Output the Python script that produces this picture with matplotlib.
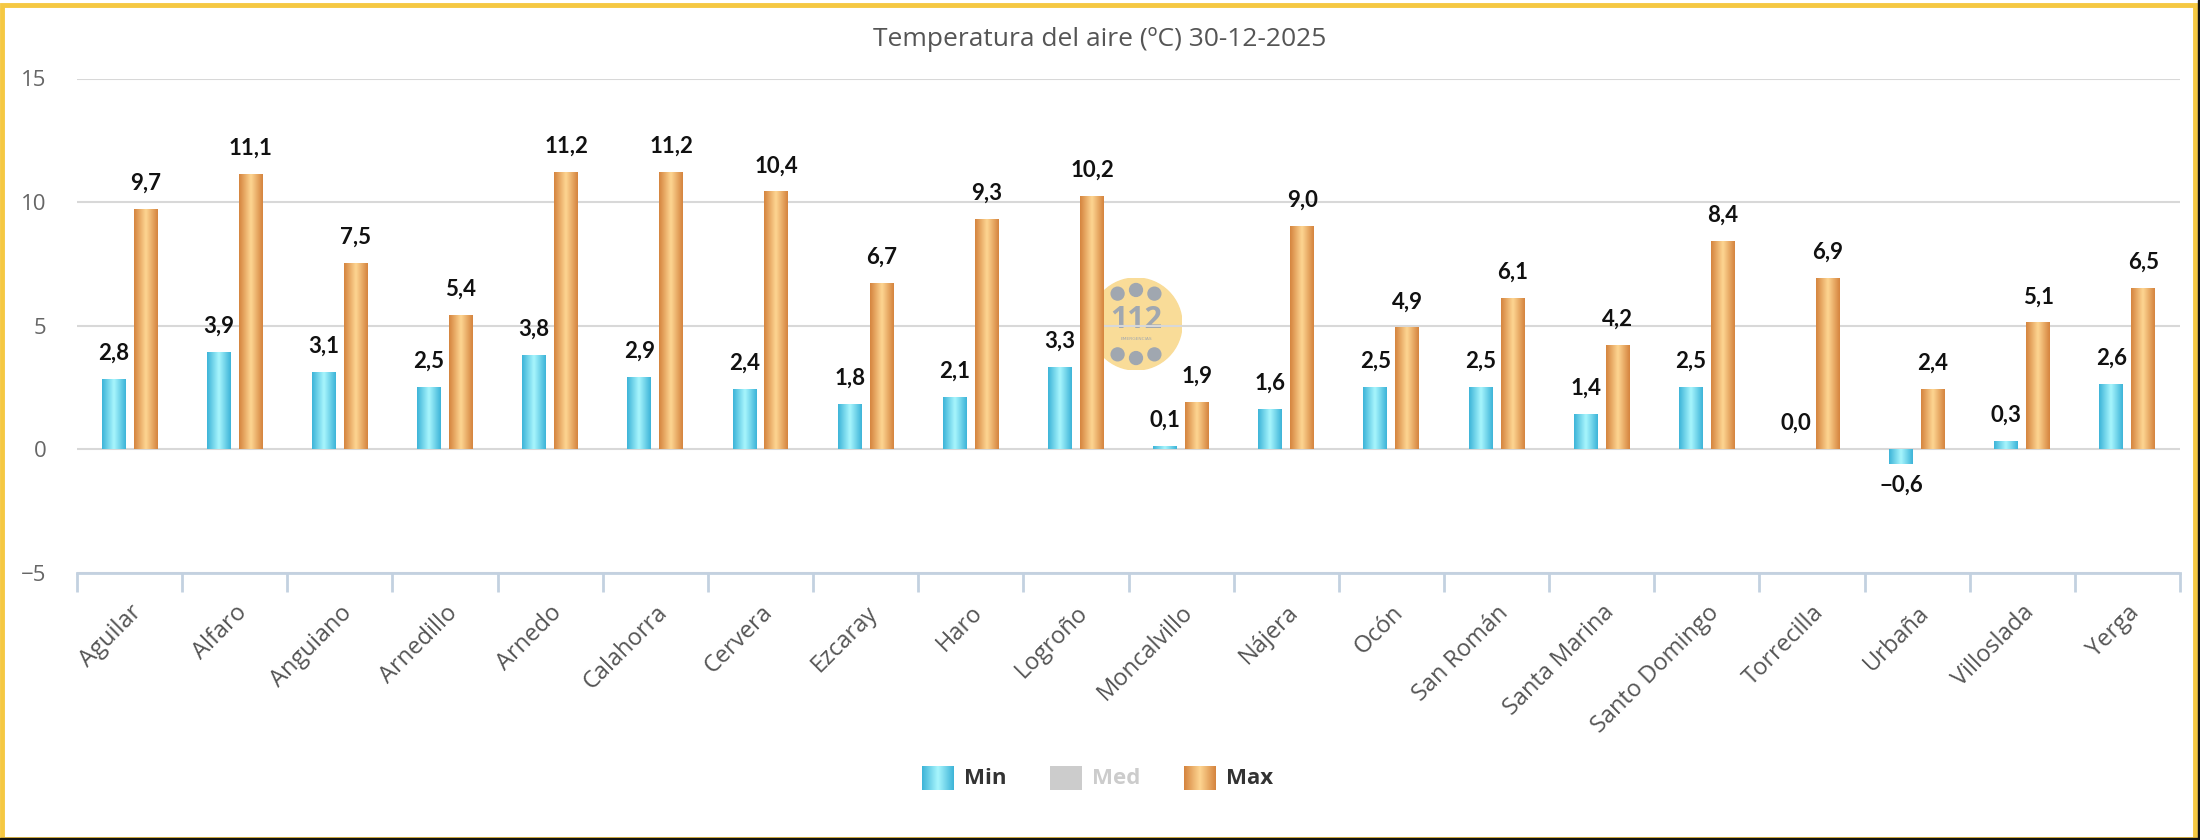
import matplotlib.pyplot as plt
import numpy as np
from matplotlib.colors import LinearSegmentedColormap
from matplotlib.patches import Rectangle, Circle

# Datos
estaciones = ["Aguilar", "Alfaro", "Anguiano", "Arnedillo", "Arnedo", "Calahorra",
              "Cervera", "Ezcaray", "Haro", "Logroño", "Moncalvillo", "Nájera",
              "Ocón", "San Román", "Santa Marina", "Santo Domingo", "Torrecilla",
              "Urbaña", "Villoslada", "Yerga"]
t_min = [2.8, 3.9, 3.1, 2.5, 3.8, 2.9, 2.4, 1.8, 2.1, 3.3,
         0.1, 1.6, 2.5, 2.5, 1.4, 2.5, 0.0, -0.6, 0.3, 2.6]
t_max = [9.7, 11.1, 7.5, 5.4, 11.2, 11.2, 10.4, 6.7, 9.3, 10.2,
         1.9, 9.0, 4.9, 6.1, 4.2, 8.4, 6.9, 2.4, 5.1, 6.5]
y_ticks = [-5, 0, 5, 10, 15]

FONT = ["Open Sans", "DejaVu Sans"]
FONT_LBL = ["Liberation Sans Narrow", "Lato", "DejaVu Sans"]

cmap_min = LinearSegmentedColormap.from_list("cmin", ["#3db4d8", "#a9f6fd", "#3db4d8"])
cmap_max = LinearSegmentedColormap.from_list("cmax", ["#d5843e", "#fed692", "#d5843e"])
grad = np.linspace(0, 1, 64).reshape(1, -1)

W, H = 2200, 840
fig = plt.figure(figsize=(22, 8.4), dpi=100)
fig.patch.set_facecolor("white")

# Logo 112 (marca de agua, detras del grafico)
gax = fig.add_axes([(1136 - 46) / W, 1 - (324 + 46) / H, 92 / W, 92 / H])
gax.set_aspect("equal")
gax.set_xlim(-1, 1)
gax.set_ylim(-1, 1)
gax.set_axis_off()
gax.add_patch(Circle((0, 0), 1.0, color="#f9dc98"))
for dx, dy in [(-0.4, 0.66), (0, 0.74), (0.4, 0.66), (-0.4, -0.66), (0, -0.74), (0.4, -0.66)]:
    gax.add_patch(Circle((dx, dy), 0.14, color="#a0a7b0"))
gax.text(0, 0.08, "112", ha="center", va="center", fontsize=22, fontweight="bold",
         color="#a0a7b0", family=FONT)
gax.text(0, -0.33, "EMERGENCIAS", ha="center", va="center", fontsize=3.2, color="#a0a7b0")

ax = fig.add_axes([77 / W, 1 - 573 / H, (2180 - 77) / W, (573 - 78.5) / H])
ax.set_facecolor("none")
x = np.arange(len(estaciones))
bw = 0.228
off = 0.152

bars_min = ax.bar(x - off, t_min, bw, color="none", zorder=3)
bars_max = ax.bar(x + off, t_max, bw, color="none", zorder=3)

for bars, cm in [(bars_min, cmap_min), (bars_max, cmap_max)]:
    for p in bars:
        x0, y0, w, h = p.get_x(), p.get_y(), p.get_width(), p.get_height()
        if h == 0:
            continue
        ax.imshow(grad, cmap=cm, extent=[x0, x0 + w, y0, y0 + h],
                  aspect="auto", zorder=3, interpolation="bicubic")


def fmt(v):
    s = f"{abs(v):.1f}".replace(".", ",")
    return s if v >= 0 else "−" + s


for xs, vals in [(x - off, t_min), (x + off, t_max)]:
    for xi, v in zip(xs, vals):
        if v >= 0:
            ax.annotate(fmt(v), (xi, v), xytext=(0, 20), textcoords="offset pixels",
                        ha="center", va="baseline", fontsize=16, fontweight="bold",
                        family=FONT_LBL, color="#111111", zorder=5)
        else:
            ax.annotate(fmt(v), (xi, v), xytext=(0, -10), textcoords="offset pixels",
                        ha="center", va="top", fontsize=16, fontweight="bold",
                        family=FONT_LBL, color="#111111", zorder=5)

ax.set_xlim(-0.5, len(estaciones) - 0.5)
ax.set_ylim(-5, 15)
ax.set_yticks(y_ticks)
ax.yaxis.grid(True, color="#d8d8d8", linewidth=1.5, zorder=0)
ax.set_axisbelow(True)
for s in ["left", "right", "top"]:
    ax.spines[s].set_visible(False)
ax.spines["bottom"].set_color("#c3d1e0")
ax.spines["bottom"].set_linewidth(2)

ax.set_xticks(np.arange(len(estaciones) + 1) - 0.5)
ax.set_xticklabels([])
ax.set_xticks(x, minor=True)
ax.set_xticklabels(estaciones, minor=True, rotation=45, ha="right",
                   rotation_mode="anchor", fontsize=17, color="#555555", family=FONT)
ax.tick_params(axis="x", which="major", length=14, width=2, color="#c3d1e0")
ax.tick_params(axis="x", which="minor", length=0, pad=20)
ax.tick_params(axis="y", length=0, pad=22, labelsize=16, labelcolor="#666666")
for t in ax.get_yticklabels():
    t.set_family(FONT)

fig.text(0.5, 1 - 39 / H, "Temperatura del aire (ºC) 30-12-2025", ha="center", va="center",
         fontsize=19, color="#555555", family=FONT)

# Leyenda
items = [("Min", cmap_min, "#333333", 922), ("Med", None, "#cccccc", 1050),
         ("Max", cmap_max, "#333333", 1184)]
for name, cm, col, px in items:
    lax = fig.add_axes([px / W, 1 - 790 / H, 32 / W, 24 / H])
    lax.set_axis_off()
    if cm is None:
        lax.add_patch(Rectangle((0, 0), 1, 1, color="#cccccc"))
    else:
        lax.imshow(grad, cmap=cm, extent=[0, 1, 0, 1], aspect="auto", interpolation="bicubic")
    lax.set_xlim(0, 1)
    lax.set_ylim(0, 1)
    fig.text((px + 42) / W, 1 - 779 / H, name, ha="left", va="center", fontsize=16,
             fontweight="bold", color=col, family=FONT)

# Borde
fig.patches.append(Rectangle((1.5 / W, 1.5 / H), 1 - 7 / W, 1 - 6 / H, transform=fig.transFigure,
                             fill=False, edgecolor="#f5c842", linewidth=3.5))
fig.patches.append(Rectangle((1 - 2 / W, 0), 2 / W, 1, transform=fig.transFigure,
                             color="#111111"))
fig.patches.append(Rectangle((0, 0), 1, 2 / H, transform=fig.transFigure, color="#111111"))

fig.savefig("out.png", dpi=100)
plt.close()
